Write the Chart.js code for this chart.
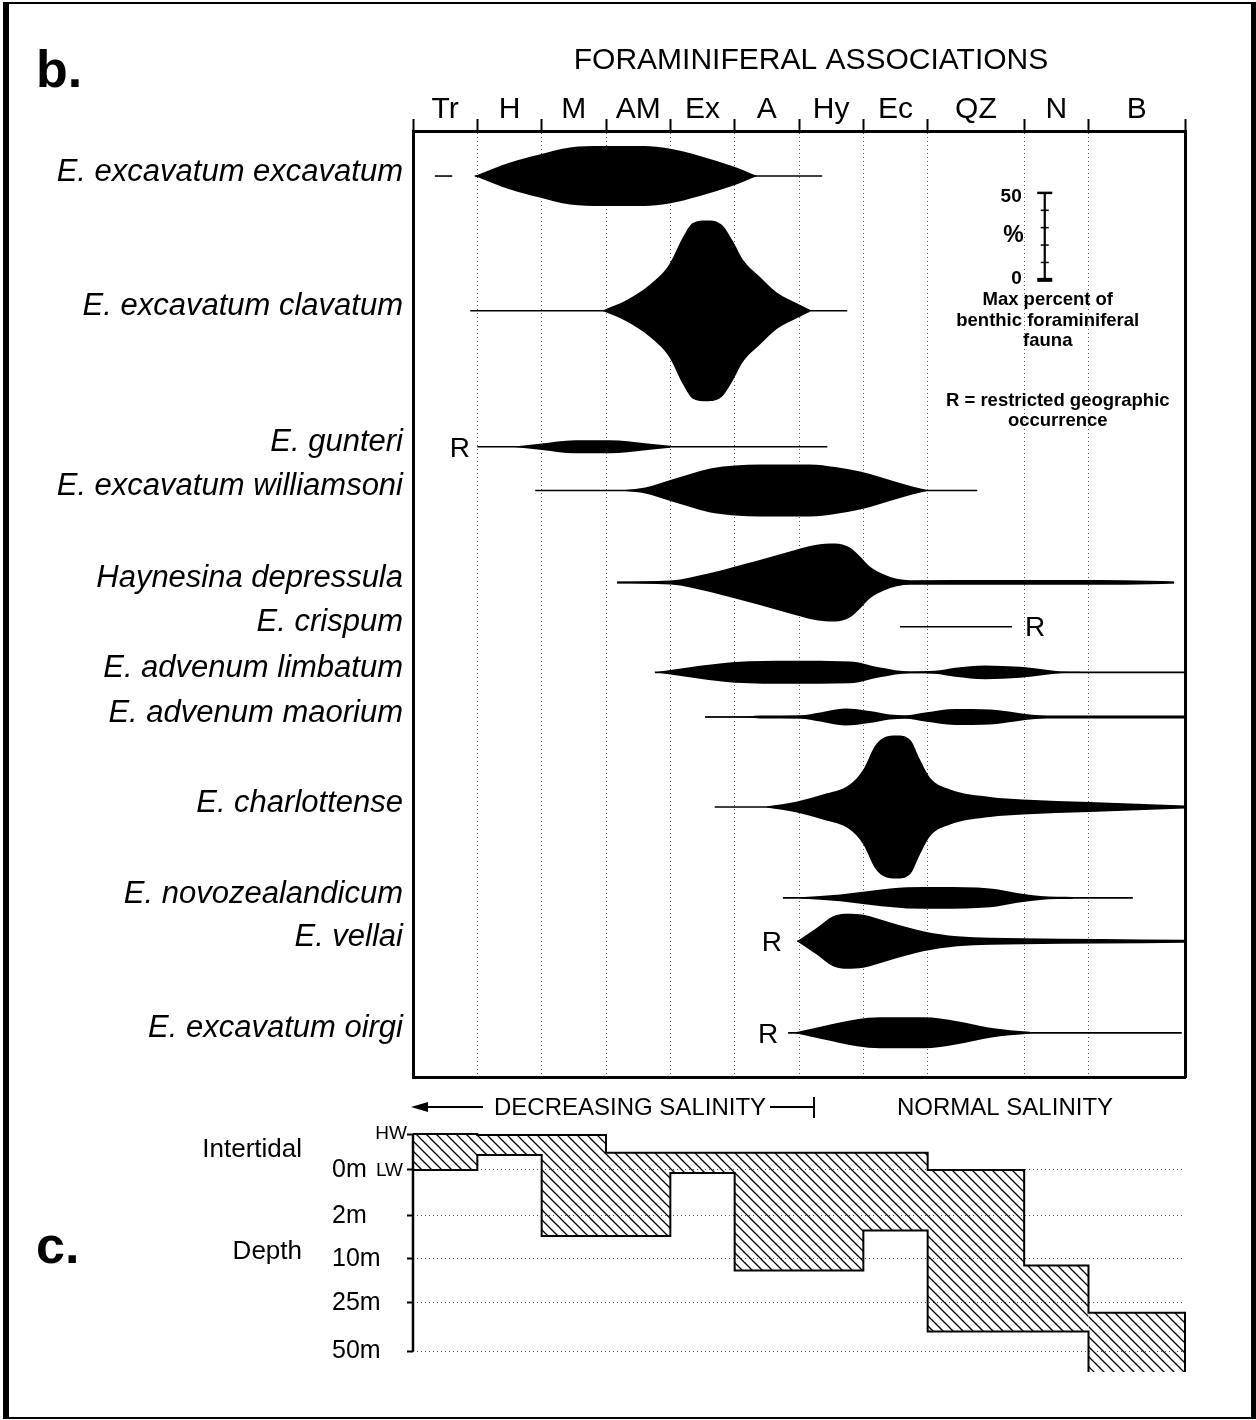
<!DOCTYPE html>
<html>
<head>
<meta charset="utf-8">
<script src="https://cdn.jsdelivr.net/npm/chart.js@4.4.1/dist/chart.umd.min.js"></script>
<style>
html,body{margin:0;padding:0;background:#fff;}
body{width:1256px;height:1420px;position:relative;overflow:hidden;}
canvas{position:absolute;left:0;}
#frame{position:absolute;left:3px;top:2px;width:1253px;height:1417px;box-sizing:border-box;
  border-left:6px solid #000;border-top:2px solid #000;border-right:5px solid #000;border-bottom:2px solid #000;
  pointer-events:none;z-index:5;}
</style>
</head>
<body>
<canvas id="cc" width="1256" height="332" style="top:1088px"></canvas>
<canvas id="cb" width="1256" height="1110" style="top:0px"></canvas>
<div id="frame"></div>
<script>
// ---------------- DATA ----------------
const columnLabels = ['Tr','H','M','AM','Ex','A','Hy','Ec','QZ','N','B'];
const columnEdges  = [0,1,2,3,4,5,6,7,8,9.5,10.5,12];

const species = [
  'E. excavatum excavatum','E. excavatum clavatum','E. gunteri','E. excavatum williamsoni',
  'Haynesina depressula','E. crispum','E. advenum limbatum','E. advenum maorium',
  'E. charlottense','E. novozealandicum','E. vellai','E. excavatum oirgi'
];
// row baseline positions on the percent axis
const rowCenters = [25.9,103.4,181.6,206.7,259.6,285.1,311.3,337,388.7,441,465.9,518.6];
// thin occurrence range lines (column units)
const rangeStart = [0.96,0.89,1.0,1.90,3.17,7.57,3.76,4.54,4.69,5.75,5.97,5.83];
const rangeEnd   = [6.36,6.75,6.44,8.77,11.83,9.31,12,12,12,11.19,12,11.95];
// kite profiles: x (column units) and full width (percent of fauna)
const kiteX = [
  [0.96,1.51,1.97,2.44,2.94,3.58,3.98,4.46,4.96,5.35],
  [2.94,3.33,3.68,3.98,4.20,4.35,4.57,4.80,4.96,5.13,5.39,5.66,5.95,6.17],
  [1.54,1.97,2.52,3.06,3.61,4.0],
  [3.30,3.61,4.0,4.31,4.62,5.01,5.39,6.17,6.56,6.95,7.26,7.49,7.76,7.99],
  [3.17,4.0,4.62,5.01,5.39,5.94,6.25,6.56,6.79,6.95,7.10,7.34,7.52,7.73,9.12,10.68,11.46,11.83],
  [],
  [3.76,4.46,5.01,5.86,6.79,7.26,7.73,8.11,8.43,8.89,9.44,10.06,10.37],
  [4.54,5.24,5.39,6.02,6.33,6.72,7.10,7.41,7.65,7.96,8.43,8.97,9.36,9.67,10.06,12],
  [5.50,5.97,6.37,6.79,7.0,7.18,7.31,7.52,7.73,7.88,8.04,8.35,8.97,9.48,10.52,11.57,12],
  [6.02,6.64,7.15,7.68,8.19,8.97,9.39,9.75,10.26],
  [5.97,6.28,6.53,6.75,7.0,7.41,7.93,8.46,9.48,10.68,12],
  [5.91,6.37,6.9,7.26,7.93,8.46,8.97,9.28,9.59]
];
const kiteW = [
  [0,15.5,24.7,32.8,34.5,34.5,31.6,23,11.5,0],
  [0,12.6,29.9,52.9,85.1,101.1,104,98.9,81.6,58.6,39.1,20.7,9.2,1.1],
  [0,3.4,7.5,7.5,4,1.1],
  [0.6,3.4,12,19,25.3,28.7,29.9,29.9,27,21.8,15.5,10.3,4.6,0.6],
  [1.1,2.3,10.9,18.4,25.9,37.4,43.1,44.8,40.2,29.9,18.4,8.6,4.3,2.6,2.8,2.8,2.0,1.1],
  [],
  [0,7.5,12,13.2,12.6,5.7,1.1,1.7,5.2,8,6.3,1.1,0.6],
  [0.6,0.9,1.7,2,5.2,9.8,6.9,2.9,2,5.2,9.2,8.6,5.2,2.3,1.7,1.7],
  [0.6,6.3,14.4,25.9,43.1,70.1,79.3,82.2,77,54.6,33.3,20.1,11.5,8.6,5.7,2.9,1.7],
  [0.6,4,8.6,12.1,12.6,10.9,5.7,2.3,1.1],
  [0,15.5,28.7,31.6,30.5,21.8,11.5,5.7,3.4,2.6,1.7],
  [0,7.5,15.5,17.8,17.8,13.2,5.7,2.9,1.1]
];
// isolated occurrence dash (row, start, end)
const extraDash = [[0,0.34,0.61]];
// restricted geographic occurrence markers
const restrictedRows = [2,5,10,11];
const restrictedX    = [0.73,9.67,5.58,5.52];
// percent scale bar
const scaleBarTicks = [0,10,20,30,40,50];
const scaleBarX = 9.82;
const scaleBarZero = 85.6;

// panel c: depth ranges per association
const depthTickPos    = [-0.8,0,1.02,1.98,2.96,4.04];
const depthLabels     = ['','0m','2m','10m','25m','50m'];
const tideLabels      = ['HW','LW'];
const zonePos         = [-0.44,1.82];
const zoneLabels      = ['Intertidal','Depth'];
const depthTop        = [-0.8,-0.78,-0.78,-0.38,-0.38,-0.38,-0.38,-0.38,0,2.13,3.18];
const depthBottom     = [0,-0.33,1.47,1.47,0.07,2.24,2.24,1.35,3.6,3.6,4.5];

// ---------------- STYLE ----------------
const FONT = "'Liberation Sans', Arial, Helvetica, sans-serif";
Chart.defaults.font.family = FONT;
Chart.defaults.color = '#000';
const CLEAR = 'rgba(0,0,0,0)';
const DOT = '#555';

// ---------------- PANEL b ----------------
const dsB = [];
species.forEach((name, i) => {
  const c = rowCenters[i];
  if (kiteX[i].length) {
    dsB.push({data: kiteX[i].map((x, j) => ({x, y: c - kiteW[i][j] / 2})),
      borderColor: CLEAR, borderWidth: 0.01, pointRadius: 0, fill: false,
      cubicInterpolationMode: 'monotone'});
    dsB.push({data: kiteX[i].map((x, j) => ({x, y: c + kiteW[i][j] / 2})),
      borderColor: CLEAR, borderWidth: 0.01, pointRadius: 0, fill: '-1',
      backgroundColor: '#000', cubicInterpolationMode: 'monotone'});
  }
  dsB.push({data: [{x: rangeStart[i], y: c}, {x: rangeEnd[i], y: c}],
    borderColor: '#000', borderWidth: 1.6, pointRadius: 0, fill: false});
});
extraDash.forEach(([r, a, b]) => {
  dsB.push({data: [{x: a, y: rowCenters[r]}, {x: b, y: rowCenters[r]}],
    borderColor: '#000', borderWidth: 1.6, pointRadius: 0, fill: false});
});
// scale bar
dsB.push({data: [{x: scaleBarX, y: scaleBarZero}, {x: scaleBarX, y: scaleBarZero - scaleBarTicks[scaleBarTicks.length - 1]}],
  borderColor: '#000', borderWidth: 2.2, pointRadius: 0, fill: false});
dsB.push({data: scaleBarTicks.map(v => ({x: scaleBarX, y: scaleBarZero - v})),
  showLine: false, pointStyle: 'line',
  pointRadius: scaleBarTicks.map((v, k) => (k === 0 || k === scaleBarTicks.length - 1) ? 7.5 : 4),
  pointBorderWidth: scaleBarTicks.map((v, k) => k === 0 ? 4 : (k === scaleBarTicks.length - 1 ? 2.5 : 1.5)),
  pointBorderColor: '#000', pointBackgroundColor: '#000'});
dsB.forEach(d => { d.xAxisID = 'x'; d.yAxisID = 'y'; });

const colCenters = columnLabels.map((l, i) => (columnEdges[i] + columnEdges[i + 1]) / 2);

const annB = {
  id: 'annB',
  afterDraw(chart) {
    const {ctx} = chart; const sx = chart.scales.x, sy = chart.scales.y;
    ctx.save();
    ctx.fillStyle = '#000';
    ctx.textAlign = 'left'; ctx.textBaseline = 'alphabetic';
    ctx.font = `bold 52px ${FONT}`;
    ctx.fillText('b.', 36, 87);
    ctx.textAlign = 'center'; ctx.textBaseline = 'middle';
    ctx.font = `30px ${FONT}`;
    ctx.fillText('FORAMINIFERAL ASSOCIATIONS', 811, 61);
    ctx.font = `28px ${FONT}`;
    restrictedRows.forEach((r, k) => {
      ctx.fillText('R', sx.getPixelForValue(restrictedX[k]), sy.getPixelForValue(rowCenters[r]) + 2);
    });
    const bx = sx.getPixelForValue(scaleBarX);
    const top = sy.getPixelForValue(scaleBarZero - 50), bot = sy.getPixelForValue(scaleBarZero);
    ctx.font = `bold 19px ${FONT}`;
    ctx.textAlign = 'right';
    ctx.fillText('50', bx - 23, top + 4);
    ctx.fillText('0', bx - 23, bot - 1);
    ctx.font = `bold 23px ${FONT}`;
    ctx.fillText('%', bx - 21, (top + bot) / 2 - 1);
    ctx.textAlign = 'center';
    ctx.font = `bold 18.5px ${FONT}`;
    ctx.fillText('Max percent of', bx + 3, 300);
    ctx.fillText('benthic foraminiferal', bx + 3, 321);
    ctx.fillText('fauna', bx + 3, 341);
    ctx.fillText('R = restricted geographic', bx + 13, 401);
    ctx.fillText('occurrence', bx + 13, 421);
    ctx.restore();
  }
};

new Chart(document.getElementById('cb'), {
  type: 'line',
  data: {datasets: dsB},
  plugins: [annB],
  options: {
    responsive: false, animation: false, events: [],
    layout: {padding: {left: 13, right: 71, top: 0, bottom: 33}},
    plugins: {legend: {display: false}, tooltip: {enabled: false}},
    scales: {
      x: {type: 'linear', position: 'top', min: 0, max: 12, weight: 0,
        afterBuildTicks: s => { s.ticks = columnEdges.map(v => ({value: v})); },
        afterFit: s => { s.height = 0; },
        ticks: {display: false, autoSkip: false},
        grid: {display: true, drawTicks: true, tickLength: 12, tickWidth: 2, tickColor: '#000',
          lineWidth: 1, color: c => (c.tick && (c.tick.value === 0 || c.tick.value === 12)) ? CLEAR : DOT},
        border: {display: true, width: 3, color: '#000', dash: [1, 3]}
      },
      x2: {type: 'linear', position: 'top', min: 0, max: 12, weight: 1,
        afterBuildTicks: s => { s.ticks = colCenters.map(v => ({value: v})); },
        afterFit: s => { s.height = 131; },
        ticks: {callback: (v, i) => columnLabels[i], font: {size: 30}, color: '#000', padding: 3,
          maxRotation: 0, minRotation: 0, autoSkip: false},
        grid: {display: false, drawTicks: false}, border: {display: false}
      },
      xB: {type: 'linear', position: 'bottom', min: 0, max: 12,
        afterFit: s => { s.height = 0; },
        ticks: {display: false}, grid: {display: false, drawTicks: false},
        border: {display: true, width: 3, color: '#000'}
      },
      y: {type: 'linear', position: 'left', reverse: true, min: 0, max: 544, weight: 0,
        afterBuildTicks: s => { s.ticks = rowCenters.map(v => ({value: v})); },
        afterFit: s => { s.width = 400; },
        ticks: {callback: (v, i) => species[i], font: {size: 31, style: 'italic'}, color: '#000',
          padding: 10, labelOffset: -4, autoSkip: false},
        grid: {display: false, drawTicks: false},
        border: {display: true, width: 3, color: '#000'}
      },
      yR: {type: 'linear', position: 'right', min: 0, max: 1,
        afterFit: s => { s.width = 0; },
        ticks: {display: false}, grid: {display: false, drawTicks: false},
        border: {display: true, width: 3, color: '#000'}
      }
    }
  }
});

// ---------------- PANEL c ----------------
function hatchPattern(ctx) {
  const c = document.createElement('canvas'); c.width = 10; c.height = 10;
  const g = c.getContext('2d');
  g.strokeStyle = '#000'; g.lineWidth = 1.3;
  g.beginPath();
  g.moveTo(-2, -2); g.lineTo(12, 12);
  g.moveTo(8, -2); g.lineTo(12, 2);
  g.moveTo(-2, 8); g.lineTo(2, 12);
  g.stroke();
  return ctx.createPattern(c, 'repeat');
}
const ccv = document.getElementById('cc');
const pattern = hatchPattern(ccv.getContext('2d'));
const nCol = columnLabels.length;
const topPts = columnEdges.map((x, i) => ({x, y: depthTop[Math.min(i, nCol - 1)]}))
  .concat([{x: columnEdges[nCol], y: depthBottom[nCol - 1]}]);
const botPts = columnEdges.map((x, i) => ({x, y: depthBottom[Math.min(i, nCol - 1)]}));

const dsC = [
  {data: topPts, stepped: true, borderColor: '#000', borderWidth: 2, pointRadius: 0, fill: false, clip: 4},
  {data: botPts, stepped: true, borderColor: '#000', borderWidth: 2, pointRadius: 0, fill: '-1',
    backgroundColor: pattern, clip: 4,
    segment: {borderColor: c => c.p0DataIndex >= nCol - 1 ? CLEAR : undefined}},
  {data: [{x: 0, y: depthTickPos[0]}, {x: 0, y: depthTickPos[depthTickPos.length - 1]}],
    borderColor: '#000', borderWidth: 2.5, pointRadius: 0, fill: false, clip: 10}
];
dsC.forEach(d => { d.xAxisID = 'x'; d.yAxisID = 'y'; });

const OFF = 1088; // page y of this canvas
const annC = {
  id: 'annC',
  afterDraw(chart) {
    const {ctx} = chart; const sy = chart.scales.y; const left = chart.chartArea.left;
    ctx.save();
    ctx.fillStyle = '#000'; ctx.strokeStyle = '#000';
    ctx.font = `bold 52px ${FONT}`;
    ctx.textAlign = 'left'; ctx.textBaseline = 'alphabetic';
    ctx.fillText('c.', 36, 1263 - OFF);
    // tide levels
    ctx.font = `19px ${FONT}`; ctx.textAlign = 'right'; ctx.textBaseline = 'middle';
    ctx.fillText(tideLabels[0], left - 6, sy.getPixelForValue(depthTickPos[0]));
    ctx.fillText(tideLabels[1], left - 10, sy.getPixelForValue(depthTickPos[1]) + 1);
    // salinity annotation
    const yy = 1107 - OFF;
    ctx.lineWidth = 2;
    ctx.beginPath(); ctx.moveTo(424, yy); ctx.lineTo(483, yy); ctx.stroke();
    ctx.beginPath(); ctx.moveTo(411, yy); ctx.lineTo(428, yy - 5); ctx.lineTo(428, yy + 5); ctx.closePath(); ctx.fill();
    ctx.beginPath(); ctx.moveTo(770, yy); ctx.lineTo(814, yy); ctx.moveTo(814, yy - 10); ctx.lineTo(814, yy + 11); ctx.stroke();
    ctx.font = `24px ${FONT}`; ctx.textAlign = 'left';
    ctx.fillText('DECREASING SALINITY', 494, yy + 1);
    ctx.fillText('NORMAL SALINITY', 897, yy + 1);
    ctx.restore();
  }
};

new Chart(ccv, {
  type: 'line',
  data: {datasets: dsC},
  plugins: [annC],
  options: {
    responsive: false, animation: false, events: [],
    layout: {padding: {left: 0, right: 71, top: 46, bottom: 48}},
    plugins: {legend: {display: false}, tooltip: {enabled: false}},
    scales: {
      x: {type: 'linear', display: false, min: 0, max: 12},
      y: {type: 'linear', position: 'left', reverse: true, min: -0.8, max: 4.5, weight: 0,
        afterBuildTicks: s => { s.ticks = depthTickPos.map(v => ({value: v})); },
        afterFit: s => { s.width = 81; },
        ticks: {callback: (v, i) => depthLabels[i], font: {size: 25}, color: '#000', crossAlign: 'far', autoSkip: false},
        grid: {display: true, drawTicks: true, tickLength: 6, tickWidth: 2, tickColor: '#000', lineWidth: 1,
          color: c => c.index === 0 ? CLEAR : DOT},
        border: {display: false, dash: [1, 3]}
      },
      y3: {type: 'linear', position: 'left', reverse: true, min: -0.8, max: 4.5, weight: 2,
        afterBuildTicks: s => { s.ticks = zonePos.map(v => ({value: v})); },
        afterFit: s => { s.width = 332; },
        ticks: {callback: (v, i) => zoneLabels[i], font: {size: 26}, color: '#000', padding: 30, autoSkip: false},
        grid: {display: false, drawTicks: false}, border: {display: false}
      }
    }
  }
});
</script>
</body>
</html>
